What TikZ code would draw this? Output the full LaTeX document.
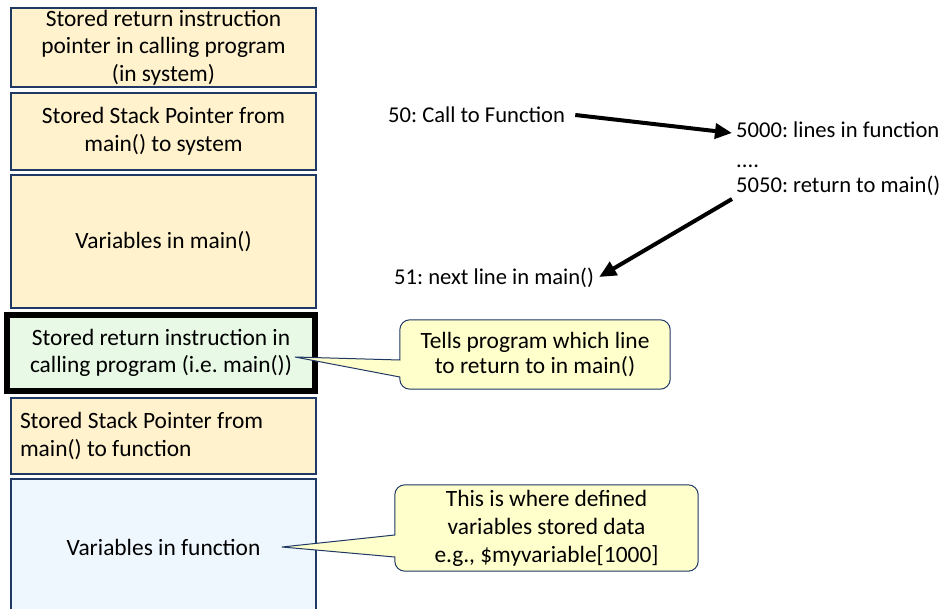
\documentclass[tikz,border=0pt]{standalone}
\usepackage{fontspec}
\setmainfont{Carlito}
\frenchspacing
\usetikzlibrary{arrows.meta,calc}
\definecolor{navy}{HTML}{1F3864}
\definecolor{beige}{HTML}{FFF2CC}
\definecolor{mint}{HTML}{E8FAE6}
\definecolor{pale}{HTML}{EEF6FE}
\definecolor{note}{HTML}{FFFFCC}
\tikzset{
  stackbox/.style={draw=navy, line width=2pt, fill=beige, minimum width=305pt, inner sep=0pt,
    align=center, font=\fontsize{23.4}{27.5}\selectfont},
  plain/.style={inner sep=0pt, font=\fontsize{22.6}{27}\selectfont, anchor=base west},
  callout/.style={draw=navy, line width=1pt, fill=note},
  calltext/.style={inner sep=0pt, align=center, font=\fontsize{23.4}{28}\selectfont},
  jump/.style={line width=4pt, -{Triangle[length=17pt,width=15pt]}}
}
\begin{document}
\begin{tikzpicture}[x=1pt,y=-1pt]
\useasboundingbox (0,0) rectangle (948,609);
\fill[white] (0,0) rectangle (948,609);
\clip (0,0) rectangle (948,609);

% stack boxes
\node[stackbox, minimum height=79pt] (b1) at (163.5,47.5) {Stored return instruction\\pointer in calling program\\(in system)};
\node[stackbox, minimum height=77pt] (b2) at (163.5,131.5) {Stored Stack Pointer from\\main() to system};
\node[stackbox, minimum height=133pt] (b3) at (163.5,241.5) {Variables in main()};
\node[stackbox, draw=black, line width=6pt, fill=mint, minimum width=308pt, minimum height=76pt] (b4) at (161,353) {Stored return instruction in\\calling program (i.e. main())};
\node[stackbox, minimum height=76pt, align=flush left, text width=287pt, inner xsep=9pt] (b5) at (163.5,436) {Stored Stack Pointer from\\main() to function};
\node[stackbox, fill=pale, minimum height=137pt] (b6) at (163.5,547.5) {Variables in function};

% callout 1
\coordinate (t1) at (295,357);
\node[calltext, minimum width=270pt, minimum height=69pt] (c1) at (535,354.5) {};
\draw[callout] (t1) -- ($(c1.west)+(0,5.5)$) [rounded corners=10pt] -- (c1.north west) -- (c1.north east) -- (c1.south east) -- (c1.south west) [sharp corners] -- ($(c1.west)+(0,22.5)$) -- cycle;
\node[calltext, font=\fontsize{23.4}{25}\selectfont] (c1t) at (c1) {Tells program which line\\to return to in main()};

% callout 2
\coordinate (t2) at (282,547);
\node[calltext, minimum width=303pt, minimum height=86pt] (c2) at (546.5,528) {};
\draw[callout] (t2) -- ($(c2.west)+(0,7)$) [rounded corners=10pt] -- (c2.north west) -- (c2.north east) -- (c2.south east) -- (c2.south west) [sharp corners] -- ($(c2.west)+(0,29)$) -- cycle;
\node[calltext] (c2t) at (c2) {This is where defined\\variables stored data\\e.g., \$myvariable[1000]};

% program flow
\node[plain] (n50) at (388,123) {50: Call to Function};
\node[plain] (n5000) at (736,138) {5000: lines in function};
\node[plain] (dots) at (736,168) {....};
\node[plain] (n5050) at (736,193) {5050: return to main()};
\node[plain] (n51) at (394,285) {51: next line in main()};

\draw[jump] ($(n50.base east)+(10,-8)$) -- ($(n5000.base west)+(-4,-5)$);
\draw[jump] ($(n5050.base west)+(-4,6)$) -- ($(n51.base east)+(5,-8)$);
\end{tikzpicture}
\end{document}
